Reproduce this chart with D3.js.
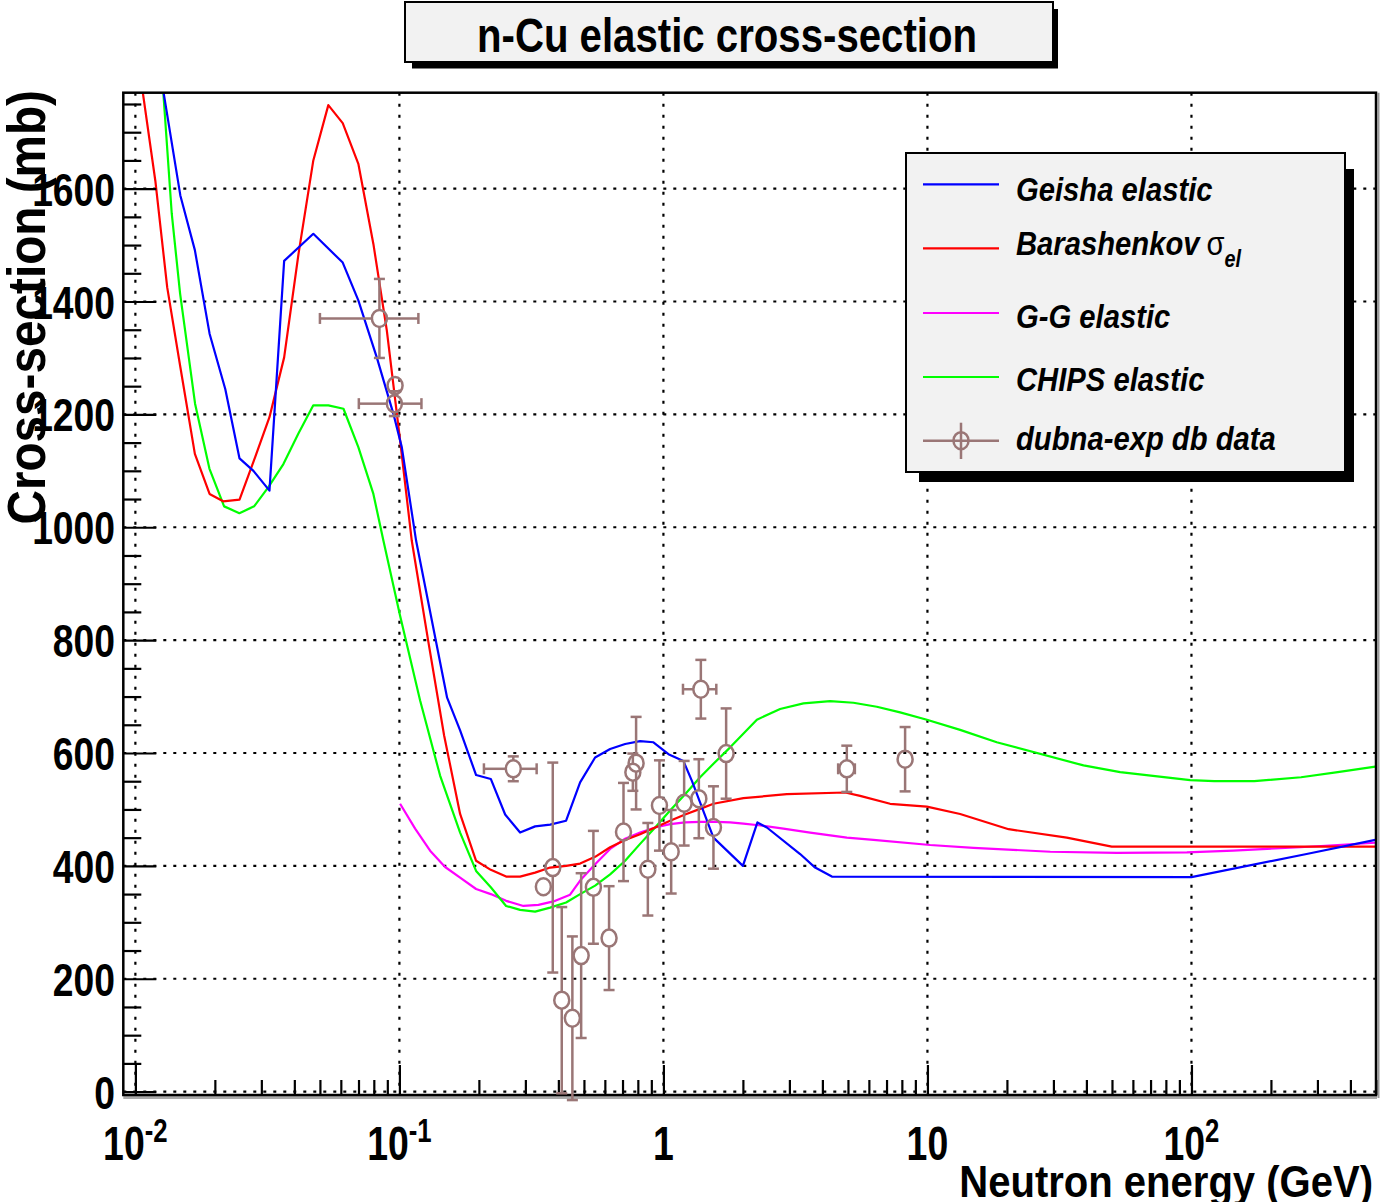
<!DOCTYPE html>
<html>
<head>
<meta charset="utf-8">
<script src="https://cdn.jsdelivr.net/npm/d3@7"></script>
<style>
  html, body { margin: 0; padding: 0; background: #ffffff; }
  svg { display: block; }
  text { font-family: "Liberation Sans", Arial, Helvetica, sans-serif; font-weight: bold; fill: #000; }
</style>
</head>
<body>
<svg id="chart" width="1380" height="1202"></svg>
<script>
// ---------------- data ----------------
// Geisha elastic model (energy in GeV, cross-section in mb)
const geishaE  = [0.0119, 0.0148, 0.0168, 0.0191, 0.0219, 0.0248, 0.0280, 0.0322, 0.0366, 0.0472,
                  0.0610, 0.0699, 0.0821, 0.0949, 0.1021, 0.1157, 0.1516, 0.1698, 0.1952, 0.2219,
                  0.2515, 0.2865, 0.3266, 0.3723, 0.428, 0.4836, 0.5512, 0.6283, 0.7161, 0.816,
                  0.9165, 1.045, 1.19, 1.281, 1.547, 2.0, 2.27, 2.465, 3.295, 3.755, 4.345, 100, 273, 497];
const geishaXS = [1860, 1588, 1491, 1343, 1245, 1122, 1100, 1065, 1472, 1520,
                  1469, 1402, 1301, 1201, 1142, 976, 698, 640, 561, 554,
                  491, 459, 470, 473, 480, 548, 592, 607, 616, 621,
                  619, 598, 586, 551, 450, 400, 477, 468, 421, 397, 381, 380, 421, 446];

// Barashenkov sigma_el
const barashE  = [0.0100, 0.0119, 0.0132, 0.0148, 0.0168, 0.0191, 0.0215, 0.0248, 0.0284, 0.0322,
                  0.0366, 0.0415, 0.0472, 0.0538, 0.0610, 0.0699, 0.0797, 0.0896, 0.1006, 0.1114,
                  0.1285, 0.1477, 0.1698, 0.1952, 0.2219, 0.2536, 0.2865, 0.3266, 0.3723, 0.428,
                  0.4836, 0.5512, 0.6283, 0.7161, 0.816, 0.9303, 1.06, 1.208, 1.377, 1.547,
                  2.009, 2.934, 4.88, 5.56, 7.22, 9.95, 13.3, 20.3, 33.7, 49.9, 497];
const barashXS = [1863, 1614, 1425, 1284, 1130, 1059, 1046, 1049, 1124, 1195,
                  1301, 1485, 1650, 1748, 1716, 1644, 1502, 1349, 1154, 976,
                  799, 631, 492, 409, 393, 381, 381, 388, 397, 400,
                  404, 416, 433, 446, 456, 468, 480, 491, 501, 510,
                  520, 527, 530, 524, 510, 505, 492, 465, 450, 434, 434];

// Glauber-Gribov elastic
const ggE  = [0.1006, 0.1147, 0.1307, 0.149, 0.1698, 0.1952, 0.2219, 0.2536, 0.2949, 0.3362,
              0.3832, 0.4431, 0.4836, 0.5512, 0.6283, 0.7161, 0.816, 0.9303, 1.06, 1.208,
              1.377, 1.59, 1.79, 2.009, 2.295, 2.848, 3.595, 4.952, 6.245, 10.24,
              14.94, 29.2, 52.2, 96.1, 144, 258, 497];
const ggXS = [510, 466, 427, 398, 379, 359, 350, 338, 329, 331,
              337, 349, 374, 403, 430, 448, 459, 468, 474, 477,
              478, 478, 477, 475, 472, 466, 459, 450, 446, 437,
              432, 425, 423, 424, 427, 433, 441];

// CHIPS elastic
const chipsE  = [0.01236, 0.01373, 0.01477, 0.01683, 0.01907, 0.02168, 0.02477, 0.02816, 0.0319, 0.03636,
                 0.04145, 0.0472, 0.05383, 0.0614, 0.0699, 0.0797, 0.087, 0.1006, 0.1198, 0.1426,
                 0.1698, 0.1952, 0.2219, 0.2536, 0.2865, 0.3266, 0.3723, 0.428, 0.4836, 0.5512,
                 0.6283, 0.7161, 0.816, 0.9303, 1.06, 1.208, 1.377, 1.547, 1.79, 2.259,
                 2.767, 3.39, 4.28, 5.245, 6.43, 7.88, 9.95, 13.3, 18.3, 39,
                 53.7, 98.9, 122, 173, 260, 358, 497];
const chipsXS = [1863, 1556, 1414, 1219, 1104, 1037, 1025, 1037, 1071, 1112,
                 1166, 1216, 1216, 1210, 1142, 1059, 976, 843, 693, 560,
                 459, 391, 362, 329, 322, 319, 326, 335, 350, 365,
                 385, 409, 439, 468, 498, 527, 557, 581, 610, 659,
                 678, 688, 692, 689, 682, 672, 659, 641, 619, 578,
                 566, 552, 550, 550, 557, 566, 576];

// dubna-exp database measurements: energy, cross-section, energy error, cross-section error
const dataE   = [0.084, 0.0963, 0.0957, 0.270, 0.381, 0.351, 0.412, 0.452, 0.488, 0.543,
                 0.6225, 0.706, 0.766, 0.788, 0.873, 0.966, 1.07, 1.198, 1.362, 1.386,
                 1.547, 1.728, 4.95, 8.23];
const dataXS  = [1370, 1251, 1219, 572, 397, 363, 162, 130, 241, 362,
                 272, 460, 566, 582, 394, 507, 425, 511, 519, 713,
                 468, 599, 572, 589];
const dataEErr  = [0.034, 0, 0.0255, 0.061, 0, 0, 0, 0, 0, 0,
                   0, 0, 0, 0, 0, 0, 0, 0, 0, 0.2,
                   0, 0, 0.36, 0];
const dataXSErr = [70, 12, 22, 22, 186, 0, 165, 145, 146, 100,
                   92, 87, 33, 82, 82, 80, 74, 75, 70, 52,
                   73, 80, 41, 57];

// axis ticks and labels
const xTickValues = [0.01, 0.1, 1, 10, 100];
const xTickBase   = ["10", "10", "1", "10", "10"];
const xTickExp    = ["-2", "-1", "", "", "2"];
const yTickValues = [0, 200, 400, 600, 800, 1000, 1200, 1400, 1600];

// legend entries
const legendLabels = ["Geisha elastic", "Barashenkov", "G-G elastic", "CHIPS elastic", "dubna-exp db data"];

// ---------------- drawing ----------------
const svg = d3.select("#chart");
const COL = { geisha: "#0000ff", barash: "#ff0000", gg: "#ff00ff", chips: "#00ff00", data: "#9a7676" };

const x = d3.scaleLog().domain([0.009, 500]).range([123.3, 1376]);
const y = d3.scaleLinear().domain([-6, 1770]).range([1095, 92.7]);
const [X0, X1] = x.range();
const [Y0, Y1] = y.range(); // Y0 bottom, Y1 top

// grid
const grid = svg.append("g").attr("stroke", "#000").attr("stroke-width", 2.2).attr("fill", "none");
grid.selectAll("line.gx").data(xTickValues).join("line")
  .attr("x1", d => x(d)).attr("x2", d => x(d)).attr("y1", Y1).attr("y2", Y0)
  .attr("stroke-dasharray", "3,8");
grid.selectAll("line.gy").data(yTickValues).join("line")
  .attr("y1", d => y(d)).attr("y2", d => y(d)).attr("x1", X0).attr("x2", X1)
  .attr("stroke-dasharray", "3,7");

// curves
svg.append("clipPath").attr("id", "plotClip").append("rect")
  .attr("x", X0).attr("y", Y1).attr("width", X1 - X0).attr("height", Y0 - Y1);
const line = d3.line().x(d => x(d[0])).y(d => y(d[1]));
const curves = svg.append("g").attr("clip-path", "url(#plotClip)").attr("fill", "none")
  .attr("stroke-width", 2.2).attr("stroke-linejoin", "round");
curves.append("path").attr("d", line(d3.zip(ggE, ggXS))).attr("stroke", COL.gg);
curves.append("path").attr("d", line(d3.zip(chipsE, chipsXS))).attr("stroke", COL.chips);
curves.append("path").attr("d", line(d3.zip(barashE, barashXS))).attr("stroke", COL.barash);
curves.append("path").attr("d", line(d3.zip(geishaE, geishaXS))).attr("stroke", COL.geisha);

// axes (ticks pointing into the frame)
const yMinor = d3.range(50, 1770, 50).filter(v => v % 200 !== 0);
const xMinor = [];
[0.01, 0.1, 1, 10, 100].forEach(dec => { for (let k = 2; k <= 9; k++) { const v = dec * k; if (v <= 500) xMinor.push(v); } });

function cleanAxis(g) { g.select(".domain").remove(); g.selectAll(".tick line").attr("stroke", "#000").attr("stroke-width", 2.2); }
svg.append("g").attr("transform", `translate(${X0},0)`)
  .call(d3.axisLeft(y).tickValues(yTickValues).tickSize(-33).tickFormat("")).call(cleanAxis);
svg.append("g").attr("transform", `translate(${X0},0)`)
  .call(d3.axisLeft(y).tickValues(yMinor).tickSize(-18).tickFormat("")).call(cleanAxis);
svg.append("g").attr("transform", `translate(0,${Y0})`)
  .call(d3.axisBottom(x).tickValues(xTickValues).tickSize(-30).tickFormat("")).call(cleanAxis);
svg.append("g").attr("transform", `translate(0,${Y0})`)
  .call(d3.axisBottom(x).tickValues(xMinor).tickSize(-15).tickFormat("")).call(cleanAxis);

// frame
svg.append("line").attr("x1", X0).attr("x2", X1 + 1).attr("y1", Y0 + 2.5).attr("y2", Y0 + 2.5)
  .attr("stroke", "#aaaaaa").attr("stroke-width", 3);
svg.append("line").attr("x1", X1 + 2.5).attr("x2", X1 + 2.5).attr("y1", Y1).attr("y2", Y0 + 3)
  .attr("stroke", "#999999").attr("stroke-width", 2);
svg.append("rect").attr("x", X0).attr("y", Y1).attr("width", X1 - X0).attr("height", Y0 - Y1)
  .attr("fill", "none").attr("stroke", "#000").attr("stroke-width", 2.5);

// experimental points
const RX = 7.5, RY = 8.5, CAP = 5.5;
const pts = svg.append("g").attr("stroke", COL.data).attr("stroke-width", 2.5).attr("fill", "none");
dataE.forEach((e, i) => {
  const cx = x(e), cy = y(dataXS[i]);
  const ey = dataXSErr[i], ex = dataEErr[i];
  const g = pts.append("g");
  if (ey > 0) {
    const yt = y(dataXS[i] + ey), yb = y(dataXS[i] - ey);
    if (yt < cy - RY) {
      g.append("line").attr("x1", cx).attr("x2", cx).attr("y1", cy - RY).attr("y2", yt);
      g.append("line").attr("x1", cx - CAP).attr("x2", cx + CAP).attr("y1", yt).attr("y2", yt);
    }
    if (yb > cy + RY) {
      g.append("line").attr("x1", cx).attr("x2", cx).attr("y1", cy + RY).attr("y2", yb);
      g.append("line").attr("x1", cx - CAP).attr("x2", cx + CAP).attr("y1", yb).attr("y2", yb);
    }
  }
  if (ex > 0) {
    const xl = x(e - ex), xr = x(e + ex);
    if (xl < cx - RX) {
      g.append("line").attr("y1", cy).attr("y2", cy).attr("x1", cx - RX).attr("x2", xl);
      g.append("line").attr("y1", cy - CAP).attr("y2", cy + CAP).attr("x1", xl).attr("x2", xl);
    }
    if (xr > cx + RX) {
      g.append("line").attr("y1", cy).attr("y2", cy).attr("x1", cx + RX).attr("x2", xr);
      g.append("line").attr("y1", cy - CAP).attr("y2", cy + CAP).attr("x1", xr).attr("x2", xr);
    }
  }
  g.append("ellipse").attr("cx", cx).attr("cy", cy).attr("rx", RX).attr("ry", RY);
});

// text helper: narrow bold Helvetica look via horizontal scaling
function txt(parent, s, px, py, size, sx, anchor, extra) {
  const t = parent.append("text")
    .attr("transform", `translate(${px},${py})` + (extra || "") + ` scale(${sx},1)`)
    .attr("font-size", size).attr("text-anchor", anchor || "start");
  if (s !== null) t.text(s);
  return t;
}

// y tick labels
yTickValues.forEach(v => txt(svg, String(v), 115, y(v) + 17, 46, 0.81, "end"));

// x tick labels
xTickValues.forEach((v, i) => {
  const t = txt(svg, null, x(v), 1160, 48, 0.78, "middle");
  t.append("tspan").text(xTickBase[i]);
  if (xTickExp[i]) t.append("tspan").attr("font-size", 33).attr("dy", -18).text(xTickExp[i]);
});

// axis titles
txt(svg, "Neutron energy (GeV)", 1373, 1197, 45, 0.89, "end");
txt(svg, "Cross-section (mb)", 45, 90, 53, 0.9, "end", " rotate(-90)");

// title box
svg.append("rect").attr("x", 412).attr("y", 9).attr("width", 646).attr("height", 59.5).attr("fill", "#000");
svg.append("rect").attr("x", 405).attr("y", 2).attr("width", 648).attr("height", 60)
  .attr("fill", "#f2f2f2").attr("stroke", "#000").attr("stroke-width", 2);
txt(svg, "n-Cu elastic cross-section", 727, 52, 49, 0.82, "middle");

// legend
const LX = 906, LY = 153, LW = 439, LH = 319;
svg.append("rect").attr("x", 919).attr("y", 169).attr("width", 435).attr("height", 313).attr("fill", "#000");
svg.append("rect").attr("x", LX).attr("y", LY).attr("width", LW).attr("height", LH)
  .attr("fill", "#f2f2f2").attr("stroke", "#000").attr("stroke-width", 2);
const legendColors = [COL.geisha, COL.barash, COL.gg, COL.chips, COL.data];
const legendRowY = [184.3, 248.3, 313, 377, 440.7];
const legendTextDy = [16.5, 6.5, 15.3, 13.7, 9.5];
legendLabels.forEach((lab, i) => {
  const ly = legendRowY[i];
  svg.append("line").attr("x1", 923).attr("x2", 999).attr("y1", ly).attr("y2", ly)
    .attr("stroke", legendColors[i]).attr("stroke-width", i === 4 ? 2.5 : 2.2);
  const t = txt(svg, null, 1016, ly + legendTextDy[i], 34, 0.86, "start");
  t.append("tspan").attr("font-style", "italic").text(lab);
  if (i === 1) {
    t.append("tspan").attr("font-weight", "normal").attr("dx", 8).text("\u03c3");
    t.append("tspan").attr("font-style", "italic").attr("font-size", 23).attr("dy", 12).text("el");
  }
});
// legend marker for the measurements
const lm = svg.append("g").attr("stroke", COL.data).attr("stroke-width", 2.5).attr("fill", "none");
lm.append("line").attr("x1", 961).attr("x2", 961).attr("y1", 422.7).attr("y2", 459);
lm.append("ellipse").attr("cx", 961).attr("cy", 440.7).attr("rx", RX).attr("ry", RY);
</script>
</body>
</html>
